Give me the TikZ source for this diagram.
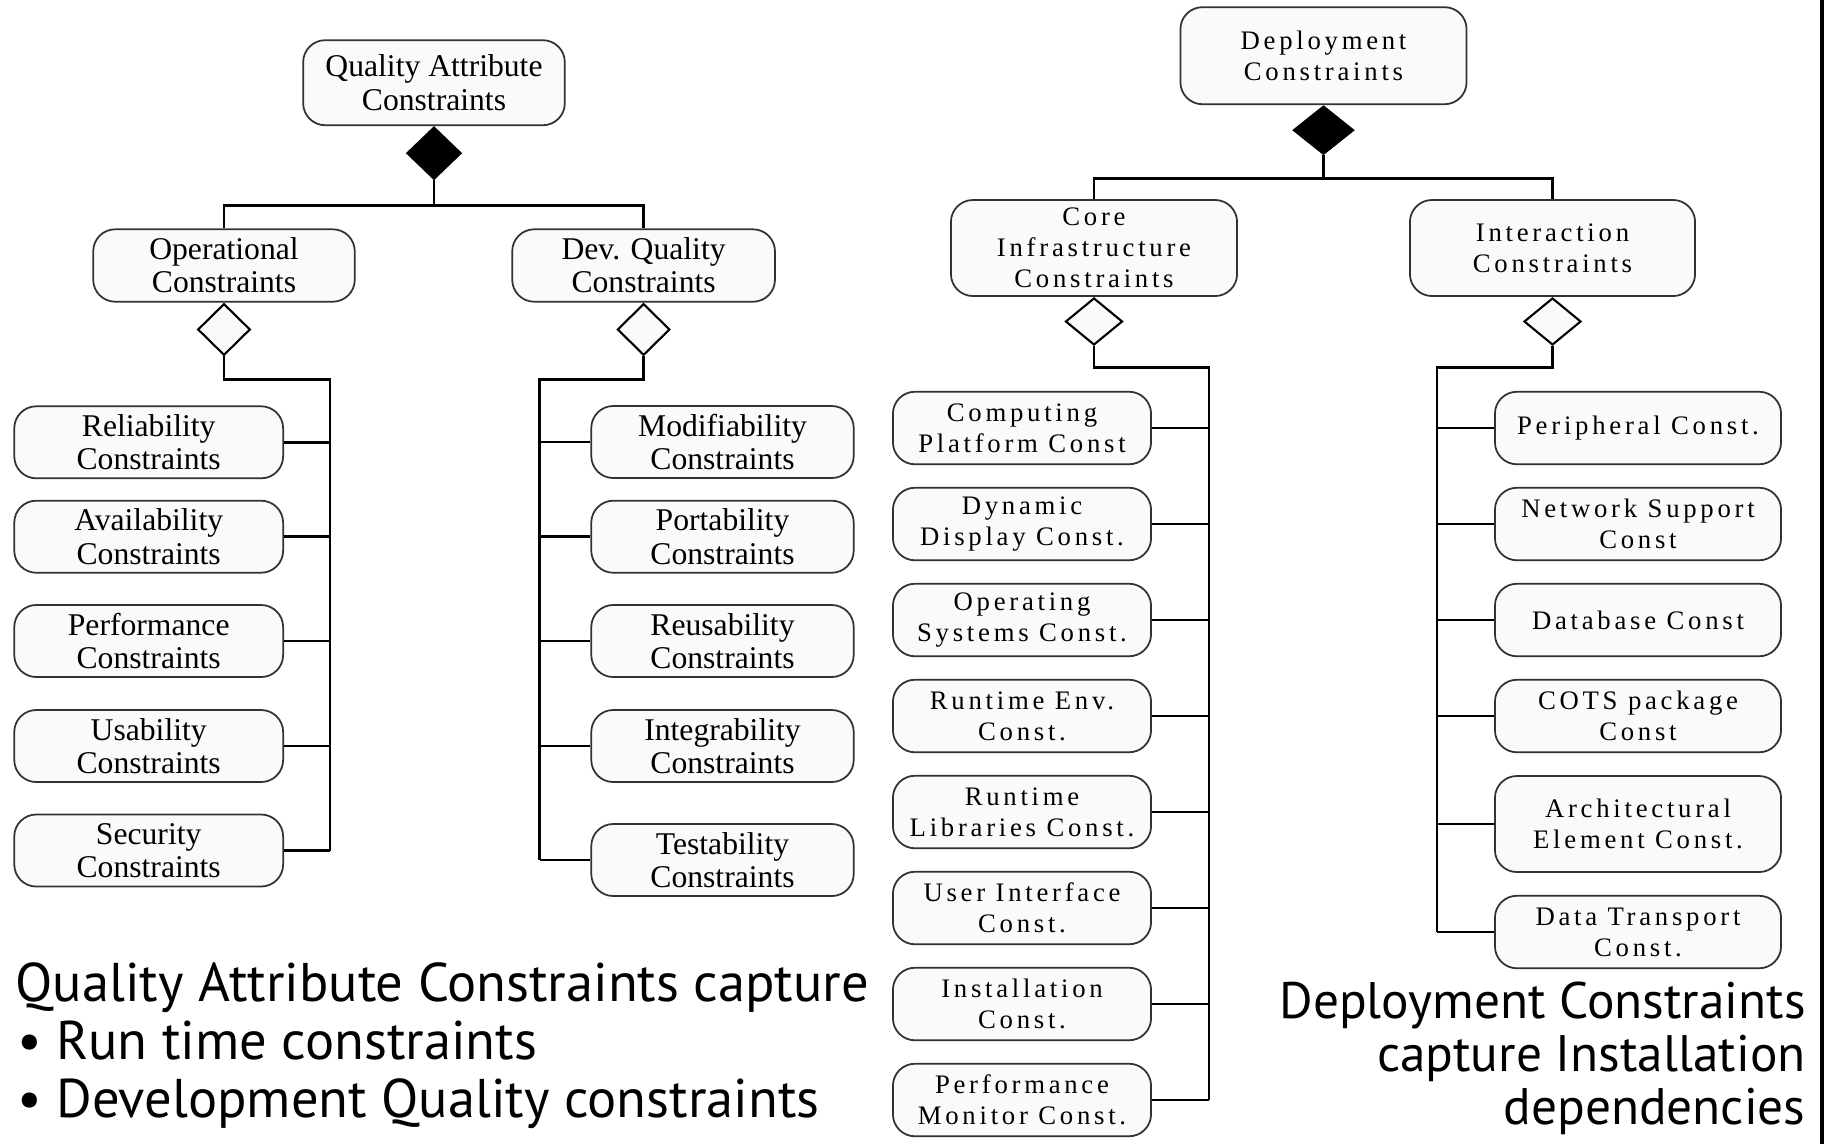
\documentclass[tikz,border=0pt]{standalone}
\usepackage{fontspec}
\setmainfont{Liberation Serif}
\newfontfamily\spacedserif[LetterSpace=14]{Liberation Serif}
\newfontfamily\notefont{PT Sans}
\usetikzlibrary{shapes.geometric}
\definecolor{boxfill}{RGB}{250,250,248}
\definecolor{boxline}{RGB}{50,50,50}

\begin{document}
\begin{tikzpicture}[x=0.01cm,y=-0.01cm,line width=0.8pt,
    box/.style={rectangle,rounded corners=0.22cm,draw=boxline,line width=0.5pt,fill=boxfill,align=center,inner sep=0pt},
    qa node/.style={box,font=\fontsize{9}{9.45}\selectfont},
    dep node/.style={box,font=\spacedserif\fontsize{7.6}{8.8}\selectfont},
    filled diamond/.style={diamond,draw,fill=black,inner sep=0pt,line width=0.6pt,anchor=north},
    open diamond/.style={diamond,draw,fill=boxfill,inner sep=0pt,line width=0.6pt,anchor=north},
    note/.style={font=\notefont\fontsize{15.5}{18}\selectfont,inner sep=0pt},
    dep note/.style={note,font=\notefont\fontsize{14.6}{17}\selectfont}]
  \useasboundingbox (0,0) rectangle (1830,1144);

  % quality attribute tree
  \node[qa node,minimum width=2.615cm,minimum height=0.85cm] at (434,82.7) (qa) {Quality Attribute\\Constraints};
  \node[filled diamond,minimum width=0.54cm,minimum height=0.52cm] at (qa.south) (qad) {};
  \node[qa node,minimum width=2.614cm,minimum height=0.724cm] at (224,265.5) (op) {Operational\\Constraints};
  \node[qa node,minimum width=2.626cm,minimum height=0.724cm] at (643.6,265.5) (dq) {Dev. Quality\\Constraints};
  \node[open diamond,minimum width=0.525cm,minimum height=0.516cm] at (op.south) (opd) {};
  \node[open diamond,minimum width=0.525cm,minimum height=0.516cm] at (dq.south) (dqd) {};

  \node[qa node,minimum width=2.687cm,minimum height=0.72cm] at (148.7,442.3) (rel) {Reliability\\Constraints};
  \node[qa node,minimum width=2.687cm,minimum height=0.72cm] at (148.7,536.7) (ava) {Availability\\Constraints};
  \node[qa node,minimum width=2.687cm,minimum height=0.72cm] at (148.7,641) (perf) {Performance\\Constraints};
  \node[qa node,minimum width=2.687cm,minimum height=0.72cm] at (148.7,746) (usa) {Usability\\Constraints};
  \node[qa node,minimum width=2.687cm,minimum height=0.72cm] at (148.7,850.5) (sec) {Security\\Constraints};

  \node[qa node,minimum width=2.623cm,minimum height=0.72cm] at (722.5,442) (mod) {Modifiability\\Constraints};
  \node[qa node,minimum width=2.623cm,minimum height=0.72cm] at (722.5,536.7) (port) {Portability\\Constraints};
  \node[qa node,minimum width=2.623cm,minimum height=0.72cm] at (722.5,641) (reuse) {Reusability\\Constraints};
  \node[qa node,minimum width=2.623cm,minimum height=0.72cm] at (722.5,746) (integ) {Integrability\\Constraints};
  \node[qa node,minimum width=2.623cm,minimum height=0.72cm] at (722.5,860) (test) {Testability\\Constraints};

  \draw (qad.south) -- ++(0,25) coordinate (qaj);
  \draw (op.north) |- (qaj) -| (dq.north);
  \coordinate (opbus) at (330,379.3);
  \coordinate (dqbus) at (539.6,379.3);
  \draw (opd.south) |- (opbus) -- (opbus |- sec.east);
  \draw (dqd.south) |- (dqbus) -- (dqbus |- test.west);
  \draw (rel.east) -- (rel.east -| opbus);
  \draw (ava.east) -- (ava.east -| opbus);
  \draw (perf.east) -- (perf.east -| opbus);
  \draw (usa.east) -- (usa.east -| opbus);
  \draw (sec.east) -- (sec.east -| opbus);
  \draw (mod.west) -- (mod.west -| dqbus);
  \draw (port.west) -- (port.west -| dqbus);
  \draw (reuse.west) -- (reuse.west -| dqbus);
  \draw (integ.west) -- (integ.west -| dqbus);
  \draw (test.west) -- (test.west -| dqbus);

  % deployment tree
  \node[dep node,minimum width=2.86cm,minimum height=0.97cm] at (1323.5,55.7) (dep) {Deployment\\Constraints};
  \node[filled diamond,minimum width=0.6cm,minimum height=0.48cm] at (dep.south) (depd) {};
  \node[dep node,minimum width=2.86cm,minimum height=0.96cm] at (1094,248) (core) {Core\\Infrastructure\\Constraints};
  \node[dep node,minimum width=2.85cm,minimum height=0.96cm] at (1552.5,248) (inter) {Interaction\\Constraints};
  \node[open diamond,minimum width=0.57cm,minimum height=0.47cm] at (core.south) (cored) {};
  \node[open diamond,minimum width=0.57cm,minimum height=0.47cm] at (inter.south) (interd) {};

  \node[dep node,minimum width=2.58cm,minimum height=0.725cm] at (1022,428) (cpu) {Computing\\Platform Const};
  \node[dep node,minimum width=2.58cm,minimum height=0.725cm] at (1022,524) (disp) {Dynamic\\Display Const.};
  \node[dep node,minimum width=2.58cm,minimum height=0.725cm] at (1022,620) (os) {Operating\\Systems Const.};
  \node[dep node,minimum width=2.58cm,minimum height=0.725cm] at (1022,716) (env) {Runtime Env.\\Const.};
  \node[dep node,minimum width=2.58cm,minimum height=0.725cm] at (1022,812) (libs) {Runtime\\Libraries Const.};
  \node[dep node,minimum width=2.58cm,minimum height=0.725cm] at (1022,908) (ui) {User Interface\\Const.};
  \node[dep node,minimum width=2.58cm,minimum height=0.725cm] at (1022,1004) (inst) {Installation\\Const.};
  \node[dep node,minimum width=2.58cm,minimum height=0.725cm] at (1022,1100) (mon) {Performance\\Monitor Const.};

  \node[dep node,minimum width=2.86cm,minimum height=0.725cm] at (1638,428) (peri) {Peripheral Const.};
  \node[dep node,minimum width=2.86cm,minimum height=0.725cm] at (1638,524) (net) {Network Support\\Const};
  \node[dep node,minimum width=2.86cm,minimum height=0.725cm] at (1638,620) (db) {Database Const};
  \node[dep node,minimum width=2.86cm,minimum height=0.725cm] at (1638,716) (cots) {COTS package\\Const};
  \node[dep node,minimum width=2.86cm,minimum height=0.96cm] at (1638,824) (arch) {Architectural\\Element Const.};
  \node[dep node,minimum width=2.86cm,minimum height=0.725cm] at (1638,932) (data) {Data Transport\\Const.};

  \draw (depd.south) -- ++(0,23) coordinate (depj);
  \draw (core.north) |- (depj) -| (inter.north);
  \coordinate (corebus) at (1209,367.7);
  \coordinate (interbus) at (1437,367.7);
  \draw (cored.south) |- (corebus) -- (corebus |- mon.east);
  \draw (interd.south) |- (interbus) -- (interbus |- data.west);
  \draw (cpu.east) -- (cpu.east -| corebus);
  \draw (disp.east) -- (disp.east -| corebus);
  \draw (os.east) -- (os.east -| corebus);
  \draw (env.east) -- (env.east -| corebus);
  \draw (libs.east) -- (libs.east -| corebus);
  \draw (ui.east) -- (ui.east -| corebus);
  \draw (inst.east) -- (inst.east -| corebus);
  \draw (mon.east) -- (mon.east -| corebus);
  \draw (peri.west) -- (peri.west -| interbus);
  \draw (net.west) -- (net.west -| interbus);
  \draw (db.west) -- (db.west -| interbus);
  \draw (cots.west) -- (cots.west -| interbus);
  \draw (arch.west) -- (arch.west -| interbus);
  \draw (data.west) -- (data.west -| interbus);

  % notes
  \node[note,anchor=base west] at (14,1001) (qanote) {Quality Attribute Constraints capture};
  \node[note,anchor=base west] at (16,1059) (runnote) {• Run time constraints};
  \node[note,anchor=base west] at (16,1117) (devnote) {• Development Quality constraints};
  \node[dep note,anchor=base east] at (1807,1018) (depnote) {Deployment Constraints};
  \node[dep note,anchor=base east] at (1807,1071) (capnote) {capture Installation};
  \node[dep note,anchor=base east] at (1807,1124) (dependnote) {dependencies};

  \draw[line width=1pt] (1822,0) -- (1822,1144);
\end{tikzpicture}
\end{document}
